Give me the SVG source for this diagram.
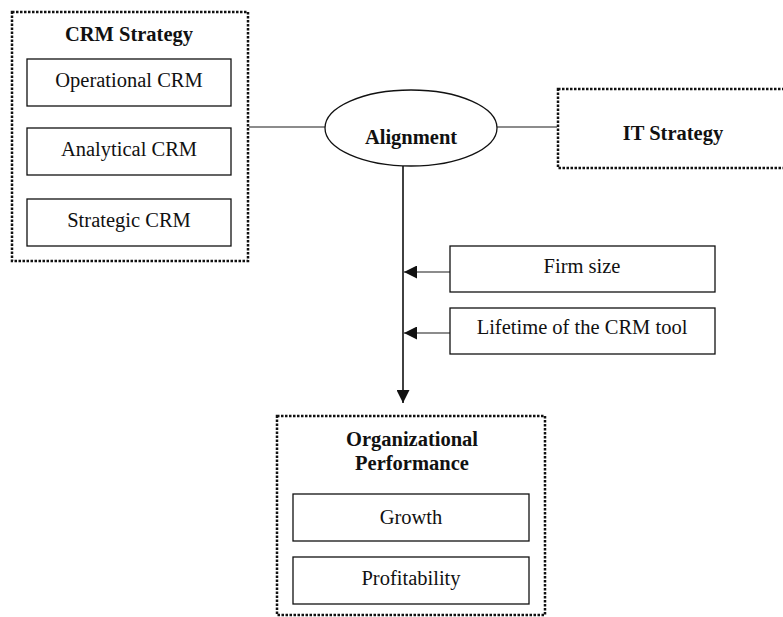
<svg xmlns="http://www.w3.org/2000/svg" width="783" height="617" viewBox="0 0 783 617">
<style>
.dot{fill:none;stroke:#111;stroke-width:2.5;stroke-dasharray:2.5 1.5}
.box{fill:#fff;stroke:#111;stroke-width:1.3}
.t{font-family:"Liberation Serif","Times New Roman",serif;font-size:20.5px;fill:#111;text-anchor:middle}
.b{font-weight:bold}
.ln{stroke:#666;stroke-width:1.6;fill:none}
.lk{stroke:#111;stroke-width:1.6;fill:none}
</style>
<defs>
<marker id="ah" viewBox="0 0 10 10" refX="10" refY="5" markerWidth="13" markerHeight="13" markerUnits="userSpaceOnUse" orient="auto">
<path d="M0,0 L10,5 L0,10 z" fill="#111"/>
</marker>
</defs>
<g id="connectors">
<line class="ln" x1="249" y1="127" x2="325" y2="127"/>
<line class="ln" x1="497" y1="127" x2="557" y2="127"/>
<line class="lk" x1="403" y1="166" x2="403" y2="403" marker-end="url(#ah)"/>
<line class="ln" x1="450" y1="272" x2="404" y2="272" marker-end="url(#ah)"/>
<line class="ln" x1="450" y1="333" x2="404" y2="333" marker-end="url(#ah)"/>
</g>
<g id="crm-strategy">
<rect class="dot" x="12" y="12" width="236" height="249"/>
<text class="t b" x="129" y="41">CRM Strategy</text>
</g>
<g id="operational-crm">
<rect class="box" x="27" y="59" width="204" height="47"/>
<text class="t" x="129" y="87">Operational CRM</text>
</g>
<g id="analytical-crm">
<rect class="box" x="27" y="128" width="204" height="47"/>
<text class="t" x="129" y="156">Analytical CRM</text>
</g>
<g id="strategic-crm">
<rect class="box" x="27" y="199" width="204" height="47"/>
<text class="t" x="129" y="227">Strategic CRM</text>
</g>
<g id="alignment">
<ellipse cx="411" cy="128" rx="86" ry="38" fill="#fff" stroke="#111" stroke-width="1.3"/>
<text class="t b" x="411" y="144">Alignment</text>
</g>
<g id="it-strategy">
<rect class="dot" x="558" y="89" width="240" height="79"/>
<text class="t b" x="673" y="140">IT Strategy</text>
</g>
<g id="firm-size">
<rect class="box" x="450" y="246" width="265" height="46"/>
<text class="t" x="582" y="273">Firm size</text>
</g>
<g id="lifetime">
<rect class="box" x="450" y="308" width="265" height="46"/>
<text class="t" x="582" y="334">Lifetime of the CRM tool</text>
</g>
<g id="org-performance">
<rect class="dot" x="277" y="416" width="268" height="199"/>
<text class="t b" x="412" y="446">Organizational</text>
<text class="t b" x="412" y="470">Performance</text>
</g>
<g id="growth">
<rect class="box" x="293" y="494" width="236" height="47"/>
<text class="t" x="411" y="524">Growth</text>
</g>
<g id="profitability">
<rect class="box" x="293" y="557" width="236" height="47"/>
<text class="t" x="411" y="585">Profitability</text>
</g>
</svg>
